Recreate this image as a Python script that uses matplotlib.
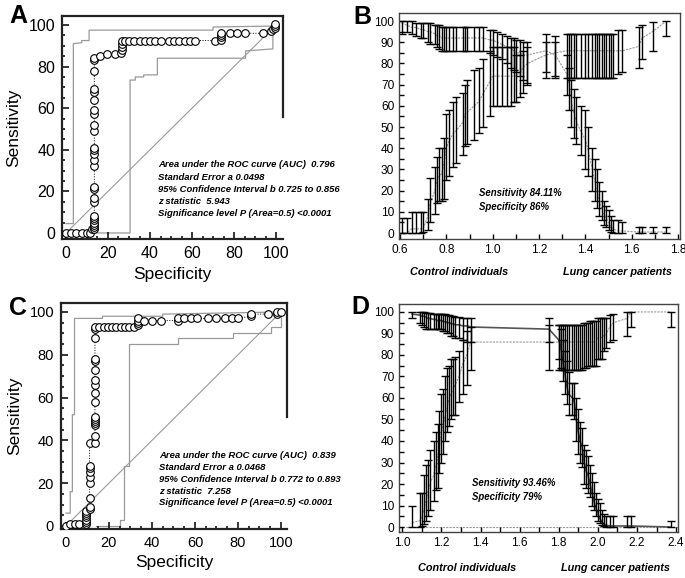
import matplotlib
matplotlib.use("Agg")
import matplotlib.pyplot as plt
from matplotlib.ticker import MultipleLocator

plt.rcParams["font.family"] = ["Liberation Sans", "DejaVu Sans"]

# ---------------- panel A: ROC curve ----------------
roc_a_col = [2, 3, 4, 5, 6, 7, 8, 15, 17, 21, 22, 32, 35, 38, 40, 41, 49, 52,
             57, 59, 64, 68, 69, 78, 83, 84]
roc_a_x = ([0, 2.5, 5, 7.5, 10, 11.5, 12.5] + [13.5] * 26 + [16, 19.5, 23.5, 26]
           + [26.5] * 4
           + [28, 30, 32.5, 35, 37.5, 40, 42.5, 45, 49, 51.5, 54, 56.5, 59, 61.5]
           + [71, 74, 74, 74, 74, 78, 81.5, 85, 94, 97.5, 98.5, 99.5, 99.5, 99.5])
roc_a_y = ([0, 0, 0, 0, 0, 0, 2] + roc_a_col + [85, 86, 86, 86.5]
           + [88, 89.5, 91, 92.5] + [92.5] * 14
           + [92.5, 93, 94, 95, 96, 96, 96, 96, 96, 97, 98, 98.5, 99.5, 100.5])
band_a_up_x = [0, 3.5, 3.5, 7.5, 7.5, 11, 11, 70, 70, 100]
band_a_up_y = [4.5, 4.5, 91, 91.5, 92.5, 92.5, 97.5, 97.5, 99, 99.5]
band_a_lo_x = [13.5, 30.5, 30.5, 33, 33, 37, 37, 43.5, 43.5, 85.5, 85.5, 98.5, 98.5]
band_a_lo_y = [0, 0, 73.5, 73.5, 75, 75, 76, 76, 84, 84, 87.5, 88.5, 100]
stats_a = ["Area under the ROC curve (AUC)  0.796",
           "Standard Error a 0.0498",
           "95% Confidence Interval b 0.725 to 0.856",
           "z statistic  5.943",
           "Significance level P (Area=0.5) <0.0001"]

# ---------------- panel C: ROC curve ----------------
roc_c_x = ([0, 2, 4, 6] + [9.5] * 7 + [11] * 9 + [13.5] * 17
           + [15.5, 17.5, 19.5, 21.5, 23.5, 25.5, 27.5, 29.5, 31.5] + [33.5] * 4
           + [36.5, 40, 44] + [52, 52, 55, 58, 61, 66, 70, 74, 77, 80]
           + [86, 86] + [94, 98, 98, 100])
roc_c_y = ([0, 1, 1, 1] + [1, 2, 3, 4, 5, 6, 7]
           + [8, 9, 13, 20, 23, 25, 27, 28, 39]
           + [39, 42, 47, 48, 49, 50, 51, 58, 62, 66, 68, 73, 77, 78, 88, 92, 93]
           + [93] * 9 + [94, 95, 96, 97] + [96, 96, 96]
           + [96, 97, 97, 97, 97, 97, 97, 97, 97, 97] + [98, 99] + [99, 99, 100, 100])
band_c_up_x = [0, 2, 2, 3, 3, 4, 4, 17, 17, 45, 45, 100]
band_c_up_y = [6, 6, 16, 16, 52, 52, 97, 97, 98, 98, 99, 100]
band_c_lo_x = [14, 25, 25, 27, 27, 29.5, 29.5, 52, 52, 77.5, 77.5, 95.5, 95.5, 100, 100]
band_c_lo_y = [0, 0, 3, 3, 28, 28, 85, 85, 88, 88, 90, 90, 93, 93, 100]
stats_c = ["Area under the ROC curve (AUC)  0.839",
           "Standard Error a 0.0468",
           "95% Confidence Interval b 0.772 to 0.893",
           "z statistic  7.258",
           "Significance level P (Area=0.5) <0.0001"]

# ---------------- panel B: criterion plot ----------------
crit_b = [0.607, 0.63, 0.65, 0.67, 0.69, 0.70, 0.72, 0.73, 0.75, 0.76, 0.77, 0.78,
          0.79, 0.80, 0.81, 0.83, 0.84, 0.87, 0.88, 0.89, 0.92, 0.94, 0.96, 0.99,
          1.00, 1.02, 1.04, 1.06, 1.08, 1.09, 1.10, 1.12, 1.13, 1.15, 1.23, 1.27,
          1.32, 1.33, 1.34, 1.35, 1.36, 1.38, 1.40, 1.41, 1.43, 1.44, 1.45, 1.46,
          1.47, 1.48, 1.49, 1.50, 1.51, 1.52, 1.54, 1.56, 1.63, 1.645, 1.69, 1.75]
sens_b = [99, 98, 97, 97, 96, 96, 95, 95, 94, 93, 93, 92,
          92, 92, 92, 92, 92, 92, 92, 92, 92, 92, 92, 91,
          91, 90, 89, 88, 87, 86, 85, 85, 84, 84, 86, 84,
          75, 70, 62, 57, 53, 48, 44, 40, 30, 25, 20, 15,
          12, 9, 7, 5, 3, 2, 1, 1, 0.5, 0.5, 0.5, 0.5]
sens_b_lo = [94, 95, 94, 93, 92, 92, 90, 89, 89, 88, 87, 86,
             86, 86, 86, 86, 86, 86, 86, 86, 86, 86, 86, 85,
             84, 83, 82, 80, 78, 77, 76, 74, 72, 71, 76, 74,
             65, 58, 50, 45, 42, 37, 30, 27, 20, 15, 12, 8,
             6, 4, 3, 1.5, 0.5, 0, 0, 0, 0, 0, 0, 0]
sens_b_hi = [100, 100, 100, 99, 99, 99, 99, 99, 98, 98, 98, 97,
             97, 97, 97, 97, 97, 97, 97, 97, 97, 97, 97, 96,
             96, 95, 94, 93, 92, 92, 91, 91, 90, 90, 94, 93,
             84, 78, 72, 68, 64, 60, 58, 50, 40, 35, 30, 24,
             20, 15, 13, 11, 8, 6, 6, 5, 3, 3, 3, 3]
spec_b = [0, 0, 2, 2, 2, 2, 8, 14, 20, 25, 27, 28,
          33, 40, 43, 47, 48, 52, 56, 57, 60, 62, 66, 72,
          74, 74, 74, 74, 74, 74, 74, 76, 78, 80, 84, 85,
          86, 86, 86, 86, 86, 86, 86, 86, 86, 86, 86, 86,
          86, 86, 86, 86, 86, 86, 86, 86, 88, 92, 95, 100]
spec_b_lo = [0, 0, 0, 0, 0, 0.5, 1.5, 5, 9, 14, 15, 15,
             16, 25, 27, 31, 33, 37, 41, 42, 44, 47, 50, 55,
             60, 60, 60, 60, 60, 62, 62, 64, 66, 70, 73, 73,
             73, 73, 73, 73, 73, 73, 73, 73, 73, 73, 73, 73,
             73, 73, 73, 73, 73, 73, 75, 76, 78, 82, 86, 93]
spec_b_hi = [7, 7, 10, 10, 10, 10, 16, 26, 31, 36, 40, 40,
             45, 56, 58, 62, 64, 66, 70, 72, 77, 78, 82, 86,
             88, 88, 88, 88, 88, 88, 84, 84, 86, 88, 90, 90,
             94, 94, 94, 94, 94, 94, 94, 94, 94, 94, 94, 94,
             94, 94, 94, 94, 94, 94, 96, 96, 97, 98, 99.7, 100]
text_b = ["Sensitivity 84.11%", "Specificity 86%"]

# ---------------- panel D: criterion plot ----------------
crit_d = [1.05, 1.09, 1.10, 1.11, 1.12, 1.13, 1.14, 1.16, 1.17, 1.18, 1.19, 1.20,
          1.21, 1.22, 1.23, 1.24, 1.25, 1.26, 1.27, 1.29, 1.31, 1.33, 1.35, 1.75,
          1.80, 1.81, 1.82, 1.83, 1.84, 1.85, 1.87, 1.88, 1.89, 1.90, 1.91, 1.92,
          1.93, 1.94, 1.95, 1.96, 1.97, 1.98, 1.99, 2.00, 2.01, 2.02, 2.03, 2.04,
          2.06, 2.08, 2.15, 2.17, 2.375]
sens_d = [99, 98.5, 98, 98, 97.5, 97, 97, 96.5, 96.5, 96, 96, 96,
          95.5, 95.5, 95, 95, 94.5, 94.5, 94, 94, 93.5, 93.5, 93, 92,
          87, 84, 78, 72, 66, 62, 60, 58, 50, 44, 40, 37,
          30, 26, 24, 20, 16, 12, 9, 6, 4, 2.5, 1.5, 1,
          0.5, 0.5, 0.5, 0.5, 0]
sens_d_lo = [97, 95, 94, 93, 92, 92, 92, 92, 92, 92, 92, 92,
             91, 91, 90, 90, 89, 89, 88, 88, 87, 86, 86, 86,
             78, 74, 68, 62, 57, 52, 52, 50, 40, 34, 30, 28,
             20, 18, 16, 14, 10, 8, 5, 3, 2, 1, 0.5, 0,
             0, 0, 0, 0, 0]
sens_d_hi = [100, 100, 100, 100, 99.5, 99.5, 99.5, 99, 99, 99, 99, 99,
             99, 99, 98.5, 98.5, 98, 98, 97.5, 97.5, 97, 97, 97, 97,
             94, 92, 87, 82, 77, 72, 67, 67, 60, 55, 49, 46,
             38, 36, 33, 29, 25, 21, 16, 13, 11, 8, 6, 5,
             5, 5, 5, 5, 3]
spec_d = [2, 3, 5, 8, 12, 16, 20, 24, 28, 32, 38, 44,
          48, 52, 56, 60, 62, 64, 66, 70, 76, 80, 86, 86,
          86, 86, 86, 86, 86, 86, 86, 86, 86, 86, 86, 86,
          86, 86, 86, 86, 86, 86, 86, 88, 88, 88, 89, 89,
          93, 95, 97, 100, 100]
spec_d_lo = [0, 0, 0.5, 1.5, 3, 5, 8, 12, 17, 18, 25, 30,
             34, 40, 44, 47, 50, 52, 52, 58, 62, 66, 73, 73,
             73, 73, 73, 73, 73, 73, 73, 73, 73, 73, 73, 73,
             74, 74, 75, 75, 75, 75, 75, 78, 78, 78, 82, 83,
             86, 87, 89, 93, 93]
spec_d_hi = [10, 16, 16, 24, 29, 31, 36, 40, 44, 48, 54, 62,
             64, 70, 74, 75, 78, 78, 79, 82, 87, 91, 93, 94,
             94, 94, 94, 94, 94, 94, 94, 94, 94, 94, 94, 94,
             95, 95, 95, 96, 96, 96, 96, 97, 97, 97, 97, 97,
             98.6, 99, 100, 100, 100]
text_d = ["Sensitivity 93.46%", "Specificity 79%"]

group_labels = ["Control individuals", "Lung cancer patients"]

GRAY = "#9a9a9a"


def draw_roc(ax, x, y, up_x, up_y, lo_x, lo_y, stats, xlim, ylim,
             tick_fs, spine_cut, text_y0, text_dy):
    ax.plot([0, 100], [0, 100], color=GRAY, lw=0.8, zorder=1)
    ax.plot(up_x, up_y, color=GRAY, lw=0.9, zorder=1)
    ax.plot(lo_x, lo_y, color=GRAY, lw=0.9, zorder=1)
    ax.plot(x, y, color="black", ls=":", lw=0.7, zorder=2)
    ax.plot(x, y, ls="none", marker="o", ms=5.5, mfc="white", mec="black",
            mew=0.8, zorder=3)
    ax.set_xlim(*xlim)
    ax.set_ylim(*ylim)
    ax.xaxis.set_major_locator(MultipleLocator(20))
    ax.xaxis.set_minor_locator(MultipleLocator(5))
    ax.yaxis.set_major_locator(MultipleLocator(20))
    ax.yaxis.set_minor_locator(MultipleLocator(5))
    ax.tick_params(which="both", direction="in", width=1.1, labelsize=tick_fs, pad=5)
    ax.tick_params(which="major", length=5)
    ax.tick_params(which="minor", length=2.5)
    for s in ax.spines.values():
        s.set_linewidth(1.6)
        s.set_color("#222222")
    ax.spines["right"].set_bounds(spine_cut, ylim[1])
    ax.set_xlabel("Specificity", fontsize=12.5, labelpad=4)
    ax.set_ylabel("Sensitivity", fontsize=12.5, labelpad=5)
    for i, line in enumerate(stats):
        ax.text(0.434, text_y0 - i * text_dy, line, transform=ax.transAxes,
                fontsize=6.8, fontweight="bold", fontstyle="italic",
                va="center", ha="left")


def draw_crit(ax, x, sens, sens_lo, sens_hi, spec, spec_lo, spec_hi, xlim, ylim,
              sens_style, spec_style, texts, tx, ty, lab_x, lab_y):
    ax.plot(x, spec, zorder=1, **spec_style)
    ax.plot(x, sens, zorder=1, **sens_style)
    for c, lo, hi in ((sens, sens_lo, sens_hi), (spec, spec_lo, spec_hi)):
        err = [[a - b for a, b in zip(c, lo)], [b - a for a, b in zip(c, hi)]]
        ax.errorbar(x, c, yerr=err, fmt="none", ecolor="black", elinewidth=1.0,
                    capsize=2.6, capthick=1.0, zorder=2)
    ax.set_xlim(*xlim)
    ax.set_ylim(*ylim)
    ax.xaxis.set_major_locator(MultipleLocator(0.2))
    ax.xaxis.set_minor_locator(MultipleLocator(0.1))
    ax.yaxis.set_major_locator(MultipleLocator(10))
    ax.yaxis.set_minor_locator(MultipleLocator(5))
    ax.xaxis.set_major_formatter(plt.FuncFormatter(lambda v, p: f"{v:.1f}"))
    ax.tick_params(which="both", direction="in", width=1.0, length=3.5,
                   labelsize=8.6, pad=3.5)
    for s in ax.spines.values():
        s.set_linewidth(1.0)
        s.set_color("#444444")
    for i, t in enumerate(texts):
        ax.text(tx, ty - i * 0.063, t, transform=ax.transAxes, fontsize=6.9,
                fontweight="bold", fontstyle="italic", va="center", ha="left")
    for lx, lab in zip(lab_x, group_labels):
        ax.text(lx, lab_y, lab, transform=ax.transAxes, fontsize=7.8,
                fontweight="bold", fontstyle="italic", va="center", ha="center")


fig = plt.figure(figsize=(6.85, 5.78), dpi=100)

ax_a = fig.add_axes([0.0905, 0.5865, 0.3226, 0.3858])
draw_roc(ax_a, roc_a_x, roc_a_y, band_a_up_x, band_a_up_y, band_a_lo_x, band_a_lo_y,
         stats_a, (-1.9, 103.3), (-2.9, 104.3), 11.5, 55.8, 0.332, 0.054)

ax_c = fig.add_axes([0.089, 0.0848, 0.330, 0.391])
draw_roc(ax_c, roc_c_x, roc_c_y, band_c_up_x, band_c_up_y, band_c_lo_x, band_c_lo_y,
         stats_c, (-2.3, 102.8), (-1.4, 104.2), 10.5, 51, 0.323, 0.052)

light = dict(color=GRAY, lw=0.8, ls=(0, (2, 1)))
ax_b = fig.add_axes([0.5825, 0.5865, 0.4102, 0.391])
draw_crit(ax_b, crit_b, sens_b, sens_b_lo, sens_b_hi, spec_b, spec_b_lo, spec_b_hi,
          (0.5957, 1.8085), (-2.8, 103.8), light, light, text_b, 0.285, 0.204,
          (0.213, 0.779), -0.146)

ax_d = fig.add_axes([0.5825, 0.0796, 0.4073, 0.3945])
ax_d.axhline(0, color=GRAY, lw=0.8, ls=(0, (2, 1)), zorder=1)
draw_crit(ax_d, crit_d, sens_d, sens_d_lo, sens_d_hi, spec_d, spec_d_lo, spec_d_hi,
          (0.983, 2.41), (-2.3, 103.7), dict(color="#555555", lw=1.2, ls="-"),
          light, text_d, 0.262, 0.215, (0.244, 0.774), -0.158)

for label, (x, y) in zip("ABCD", [(18, 16), (362, 17), (18, 308), (360, 307)]):
    fig.text(x / 685, 1 - y / 578, label, fontsize=18, fontweight="bold",
             ha="center", va="center")

fig.savefig("out.png", dpi=100)
